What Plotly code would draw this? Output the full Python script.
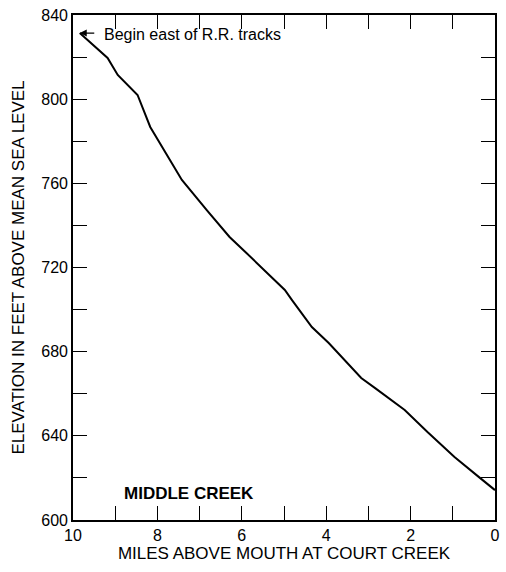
import plotly.graph_objects as go

# Stream profile of Middle Creek: distance above mouth (miles) vs. bed elevation (ft)
miles = [9.84, 9.18, 8.94, 8.47, 8.17, 7.70, 7.42, 6.83, 6.29, 5.89, 5.42, 4.98,
         4.81, 4.34, 3.94, 3.17, 2.84, 2.14, 1.60, 0.96, 0.35, 0.0]
elevation = [831.4, 819.6, 811.5, 802.0, 786.8, 771.1, 761.6, 747.3, 734.5, 726.9,
             717.9, 709.3, 704.5, 691.7, 684.1, 667.5, 662.7, 652.3, 641.8, 629.9,
             619.9, 614.2]

x_ticks = list(range(0, 11))
x_labels = [str(v) if v % 2 == 0 else "" for v in x_ticks]
y_ticks = list(range(600, 841, 20))
y_labels = [str(v) if v % 40 == 0 else "" for v in y_ticks]

font_family = "Liberation Sans, Arial, sans-serif"

fig = go.Figure()
fig.add_trace(go.Scatter(
    x=miles, y=elevation, mode="lines",
    line=dict(color="black", width=2),
    hoverinfo="skip", showlegend=False,
))

axis_common = dict(
    showgrid=False, zeroline=False, showline=True, linecolor="black", linewidth=1.6,
    mirror="ticks", ticks="inside", ticklen=14, tickwidth=1.4, tickcolor="black",
    tickfont=dict(family=font_family, size=16, color="black"),
)

fig.update_xaxes(
    range=[10, 0], tickmode="array", tickvals=x_ticks, ticktext=x_labels,
    title=dict(text="MILES ABOVE MOUTH AT COURT CREEK", standoff=2,
               font=dict(family=font_family, size=17, color="black")),
    **axis_common,
)
fig.update_yaxes(
    range=[600, 840], tickmode="array", tickvals=y_ticks, ticktext=y_labels,
    title=dict(text="ELEVATION IN FEET ABOVE MEAN SEA LEVEL", standoff=12,
               font=dict(family=font_family, size=17, color="black")),
    **axis_common,
)

# Starting-point note with arrow
fig.add_annotation(
    x=miles[0], y=elevation[0], xref="x", yref="y", text="",
    showarrow=True, arrowhead=2, arrowsize=1, arrowwidth=1.4, arrowcolor="black",
    ax=16, ay=0, axref="pixel", ayref="pixel",
)
fig.add_annotation(
    x=miles[0], y=elevation[0], xref="x", yref="y",
    text="Begin east of R.R. tracks", showarrow=False,
    xanchor="left", yanchor="middle", xshift=22, yshift=-1,
    font=dict(family=font_family, size=16, color="black"),
)
fig.add_annotation(
    x=8.84, y=607, xref="x", yref="y", text="<b>MIDDLE CREEK</b>", showarrow=False,
    xanchor="left", yanchor="bottom",
    font=dict(family=font_family, size=17, color="black"),
)

fig.update_layout(
    width=506, height=572,
    margin=dict(l=73, r=6, t=15, b=52),
    paper_bgcolor="white", plot_bgcolor="white",
)

fig.write_html("out.html")
